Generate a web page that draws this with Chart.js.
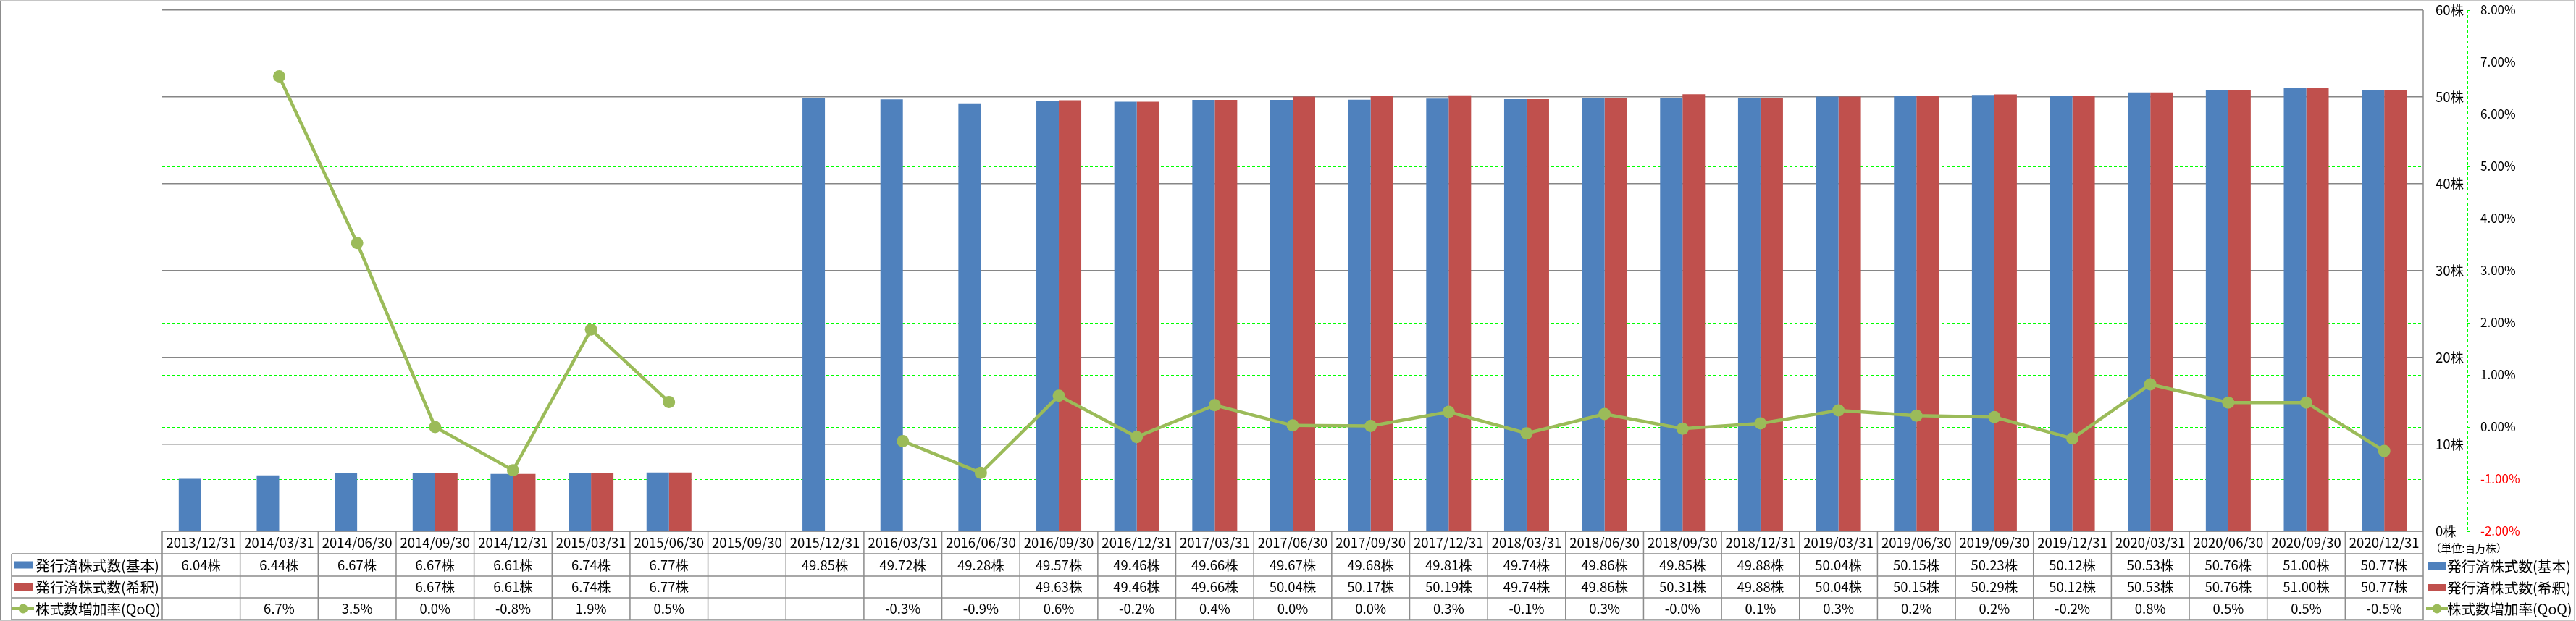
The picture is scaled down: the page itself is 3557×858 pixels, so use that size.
<!DOCTYPE html>
<html lang="ja">
<head>
<meta charset="utf-8">
<title>発行済株式数</title>
<script src="https://cdn.jsdelivr.net/npm/chart.js@4.4.1/dist/chart.umd.min.js"></script>
<style>
  html, body { margin: 0; padding: 0; background: #fff; }
  canvas { display: block; }
</style>
</head>
<body>
<canvas id="chart" width="3557" height="858"></canvas>
<script>
// quarter end dates (x categories)
const quarters = [
    '2013/12/31', '2014/03/31', '2014/06/30', '2014/09/30', '2014/12/31',
    '2015/03/31', '2015/06/30', '2015/09/30', '2015/12/31', '2016/03/31',
    '2016/06/30', '2016/09/30', '2016/12/31', '2017/03/31', '2017/06/30',
    '2017/09/30', '2017/12/31', '2018/03/31', '2018/06/30', '2018/09/30',
    '2018/12/31', '2019/03/31', '2019/06/30', '2019/09/30', '2019/12/31',
    '2020/03/31', '2020/06/30', '2020/09/30', '2020/12/31'
];

// shares outstanding, millions
const sharesBasic = [
    6.04, 6.44, 6.67, 6.67, 6.61, 6.74, 6.77, null, 49.85, 49.72,
    49.28, 49.57, 49.46, 49.66, 49.67, 49.68, 49.81, 49.74, 49.86, 49.85,
    49.88, 50.04, 50.15, 50.23, 50.12, 50.53, 50.76, 51.00, 50.77
];
const sharesDiluted = [
    null, null, null, 6.67, 6.61, 6.74, 6.77, null, null, null,
    null, 49.63, 49.46, 49.66, 50.04, 50.17, 50.19, 49.74, 49.86, 50.31,
    49.88, 50.04, 50.15, 50.29, 50.12, 50.53, 50.76, 51.00, 50.77
];

// quarter over quarter change, %
const growthQoQ = [
    null, 6.73, 3.53, 0.0, -0.83, 1.87, 0.48, null, null, -0.27,
    -0.88, 0.6, -0.19, 0.42, 0.03, 0.02, 0.29, -0.12, 0.25, -0.03,
    0.07, 0.32, 0.22, 0.19, -0.22, 0.82, 0.47, 0.47, -0.46
];

const seriesNames = ['発行済株式数(基本)', '発行済株式数(希釈)', '株式数増加率(QoQ)'];
const unitLabel = '（単位:百万株）';

const BLUE = '#4F81BD';
const RED = '#C0504D';
const GREEN = '#9BBB59';
const DASH_GREEN = '#00FF00';
const GRID_GRAY = '#868686';
const LINE_GRAY = '#8C8C8C';
const FONT = '"Noto Sans CJK JP", "Noto Sans", sans-serif';

Chart.defaults.font.family = FONT;
Chart.defaults.color = '#000';

// legend mark: swatch for bars, line + dot for the line series
function drawMark(ctx, i, left, cy) {
    if (i < 2) {
        ctx.fillStyle = i === 0 ? BLUE : RED;
        ctx.fillRect(left + 3, cy - 5, 25, 10);
    } else {
        ctx.strokeStyle = GREEN;
        ctx.lineWidth = 4;
        ctx.beginPath();
        ctx.moveTo(left, cy);
        ctx.lineTo(left + 30, cy);
        ctx.stroke();
        ctx.fillStyle = GREEN;
        ctx.beginPath();
        ctx.arc(left + 15, cy, 6.5, 0, Math.PI * 2);
        ctx.fill();
    }
}

// keep the axes from pushing the plot area down
function fixAxisBox(width) {
    return s => {
        s.width = width;
        s.paddingTop = 0;
        s.paddingBottom = 0;
    };
}

const dataTable = {
    id: 'dataTable',
    afterDraw(chart) {
        const { ctx, chartArea: area, scales: { x, y1 } } = chart;
        const colW = x.getPixelForValue(1) - x.getPixelForValue(0);
        const top = area.bottom;
        const rows = [top, top + 31, top + 62, top + 92, top + 122];
        const legendLeft = 16;

        ctx.save();

        // dashed axis line of the % scale
        ctx.strokeStyle = DASH_GREEN;
        ctx.lineWidth = 1;
        ctx.setLineDash([4, 3]);
        ctx.beginPath();
        ctx.moveTo(y1.left + 0.5, area.top);
        ctx.lineTo(y1.left + 0.5, area.bottom);
        ctx.stroke();
        ctx.setLineDash([]);

        // table grid
        ctx.strokeStyle = LINE_GRAY;
        ctx.lineWidth = 1.5;
        ctx.beginPath();
        ctx.moveTo(area.left, rows[0]);
        ctx.lineTo(area.right, rows[0]);
        for (let r = 1; r < rows.length; r++) {
            ctx.moveTo(legendLeft, rows[r]);
            ctx.lineTo(area.right, rows[r]);
        }
        ctx.moveTo(legendLeft, rows[1]);
        ctx.lineTo(legendLeft, rows[4]);
        for (let i = 0; i < quarters.length; i++) {
            const xl = x.getPixelForValue(i) - colW / 2;
            ctx.moveTo(xl, rows[0]);
            ctx.lineTo(xl, rows[4]);
        }
        // right edge of plot + table
        ctx.moveTo(area.right, area.top);
        ctx.lineTo(area.right, rows[4]);
        ctx.stroke();

        // cell texts
        ctx.fillStyle = '#000';
        ctx.font = '18.5px ' + FONT;
        ctx.textAlign = 'center';
        ctx.textBaseline = 'middle';
        const mid = r => (rows[r] + rows[r + 1]) / 2;
        quarters.forEach((q, i) => {
            const cx = x.getPixelForValue(i);
            ctx.fillText(q, cx, mid(0));
            if (sharesBasic[i] !== null) ctx.fillText(sharesBasic[i].toFixed(2) + '株', cx, mid(1));
            if (sharesDiluted[i] !== null) ctx.fillText(sharesDiluted[i].toFixed(2) + '株', cx, mid(2));
            if (growthQoQ[i] !== null) ctx.fillText(growthQoQ[i].toFixed(1) + '%', cx, mid(3));
        });

        // legend keys inside the table
        ctx.textAlign = 'left';
        ctx.font = '19.7px ' + FONT;
        seriesNames.forEach((name, i) => {
            const cy = mid(i + 1);
            drawMark(ctx, i, 17, cy);
            ctx.fillStyle = '#000';
            ctx.fillText(name, 49, cy + 1);
        });

        // legend on the right
        const lx = area.right + 4;
        ctx.font = '14.5px ' + FONT;
        ctx.fillText(unitLabel, lx + 6, 757);
        ctx.font = '19.7px ' + FONT;
        [782, 812, 841].forEach((cy, i) => {
            drawMark(ctx, i, lx, cy);
            ctx.fillStyle = '#000';
            ctx.fillText(seriesNames[i], lx + 29, cy + 1);
        });

        // outer frame
        ctx.strokeStyle = LINE_GRAY;
        ctx.lineWidth = 1.5;
        ctx.strokeRect(0.75, 1.25, chart.width - 2.5, chart.height - 2.5);
        ctx.restore();
    }
};

new Chart(document.getElementById('chart'), {
    data: {
        labels: quarters,
        datasets: [
            {
                type: 'line',
                label: seriesNames[2],
                data: growthQoQ,
                yAxisID: 'y1',
                order: 0,
                borderColor: GREEN,
                backgroundColor: GREEN,
                borderWidth: 4.5,
                pointRadius: 8.5,
                pointHoverRadius: 8.5,
                pointBorderWidth: 0,
                tension: 0,
                spanGaps: false
            },
            {
                type: 'bar',
                label: seriesNames[0],
                data: sharesBasic,
                yAxisID: 'y',
                order: 1,
                backgroundColor: BLUE,
                categoryPercentage: 0.576,
                barPercentage: 1
            },
            {
                type: 'bar',
                label: seriesNames[1],
                data: sharesDiluted,
                yAxisID: 'y',
                order: 1,
                backgroundColor: RED,
                categoryPercentage: 0.576,
                barPercentage: 1
            }
        ]
    },
    options: {
        responsive: false,
        animation: false,
        devicePixelRatio: 1,
        layout: { padding: { left: 224, top: 14, right: 0, bottom: 124 } },
        plugins: {
            legend: { display: false },
            tooltip: { enabled: false }
        },
        scales: {
            x: { display: false, offset: true },
            y: {
                position: 'right',
                weight: 0,
                min: 0,
                max: 60,
                afterFit: fixAxisBox(61),
                ticks: {
                    stepSize: 10,
                    padding: 17,
                    crossAlign: 'near',
                    font: { size: 18.5 },
                    callback: v => v + '株'
                },
                grid: { color: GRID_GRAY, lineWidth: 1.5, drawTicks: false },
                border: { display: false }
            },
            y1: {
                position: 'right',
                weight: 1,
                min: -2,
                max: 8,
                afterFit: fixAxisBox(150),
                ticks: {
                    stepSize: 1,
                    padding: 14,
                    crossAlign: 'near',
                    font: { size: 17 },
                    color: c => (c.tick && c.tick.value < 0 ? '#FF0000' : '#000'),
                    callback: v => v.toFixed(2) + '%'
                },
                grid: {
                    // top and bottom lines belong to the gray grid
                    color: c => (c.tick && (c.tick.value === 8 || c.tick.value === -2) ? 'rgba(0,0,0,0)' : DASH_GREEN),
                    lineWidth: 1,
                    tickLength: 4,
                    tickColor: DASH_GREEN,
                    z: -1
                },
                border: { display: false, dash: [4, 3] }
            }
        }
    },
    plugins: [dataTable]
});
</script>
</body>
</html>
